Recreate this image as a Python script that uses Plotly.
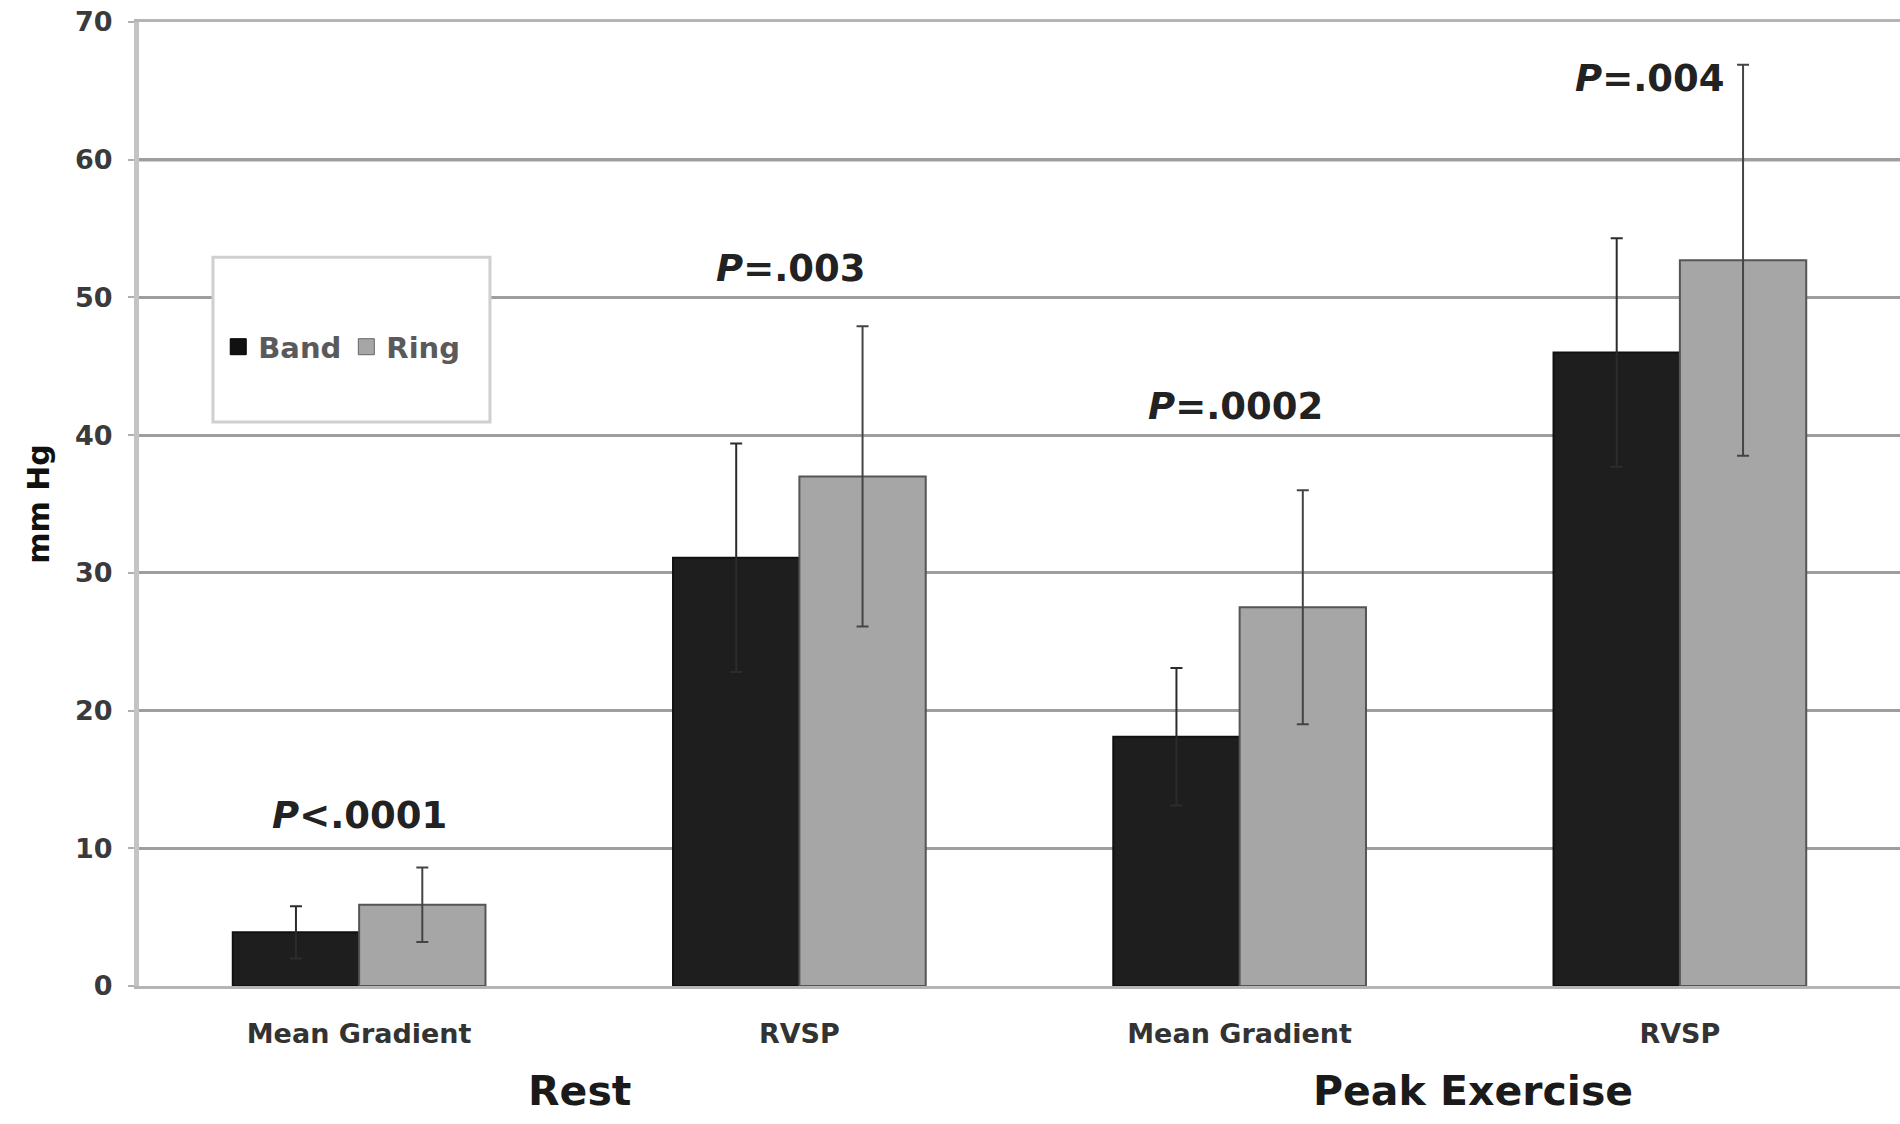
import plotly.graph_objects as go

# Pressure measurements (mm Hg), mean with SD, by ring type
measures = ["Mean Gradient", "RVSP", "Mean Gradient", "RVSP"]
conditions = ["Rest", "Peak Exercise"]
band_mean = [3.9, 31.1, 18.1, 46.0]
band_sd = [1.9, 8.3, 5.0, 8.3]
ring_mean = [5.9, 37.0, 27.5, 52.7]
ring_sd = [2.7, 10.9, 8.5, 14.2]
p_labels = ["<i>P</i><.0001", "<i>P</i>=.003", "<i>P</i>=.0002", "<i>P</i>=.004"]
p_x = [0.0, 0.98, 1.99, 2.93]
p_y = [12.4, 52.1, 42.1, 65.9]
y_ticks = [0, 10, 20, 30, 40, 50, 60, 70]

pos = list(range(len(measures)))
FONT = "DejaVu Sans"

fig = go.Figure()

fig.add_trace(go.Bar(
    x=pos, y=band_mean, name="Band", showlegend=False,
    marker=dict(color="#1e1e1e", line=dict(color="#111111", width=2)),
    error_y=dict(type="data", array=band_sd, color="#2c2c2c", thickness=2, width=6),
))
fig.add_trace(go.Bar(
    x=pos, y=ring_mean, name="Ring", showlegend=False,
    marker=dict(color="#a6a6a6", line=dict(color="#555555", width=2)),
    error_y=dict(type="data", array=ring_sd, color="#444444", thickness=2, width=6),
))

# legend entries with larger square swatches
fig.add_trace(go.Scatter(
    x=[None], y=[None], mode="markers", name="Band",
    marker=dict(symbol="square", size=16, color="#111111", line=dict(color="#000", width=1)),
))
fig.add_trace(go.Scatter(
    x=[None], y=[None], mode="markers", name="Ring",
    marker=dict(symbol="square", size=16, color="#a6a6a6", line=dict(color="#666", width=1)),
))

# significance labels
for txt, xv, yv in zip(p_labels, p_x, p_y):
    fig.add_annotation(x=xv, y=yv, text=f"<b>{txt}</b>", showarrow=False,
                       xanchor="center", yanchor="middle",
                       font=dict(family=FONT, size=37, color="#222"))

# condition group labels
for name, xv in zip(conditions, [0.5, 2.53]):
    fig.add_annotation(x=xv, y=-0.109, xref="x", yref="paper", text=f"<b>{name}</b>",
                       showarrow=False, xanchor="center", yanchor="middle",
                       font=dict(family=FONT, size=41, color="#1a1a1a"))

# emphasized reference line
fig.add_shape(type="line", xref="paper", x0=0, x1=1, yref="y", y0=60, y1=60,
              line=dict(color="#454545", width=3), layer="below")

# legend frame
fig.add_shape(type="rect", xref="paper", yref="paper",
              x0=0.042, x1=0.1993, y0=0.585, y1=0.756,
              line=dict(color="#cfcfcf", width=3), fillcolor="white", layer="above")

fig.update_layout(
    width=1900, height=1124,
    margin=dict(l=139, r=0, t=22, b=138),
    paper_bgcolor="white", plot_bgcolor="white",
    barmode="group", bargap=0.426, bargroupgap=0,
    font=dict(family=FONT, color="#333"),
    showlegend=True,
    legend=dict(orientation="h", x=0.045, xanchor="left", y=0.663, yanchor="middle",
                bgcolor="rgba(0,0,0,0)", borderwidth=0,
                font=dict(family=FONT, size=29, color="#5a5a5a", weight="bold"),
                itemsizing="trace"),
    xaxis=dict(
        range=[-0.5, 3.5], tickvals=pos, ticktext=measures,
        tickfont=dict(family=FONT, size=27, color="#333", weight="bold"),
        showgrid=False, zeroline=False, showline=True, mirror=True,
        linecolor="#b5b5b5", linewidth=3,
        ticks="", ticklabelstandoff=22,
    ),
    yaxis=dict(
        range=[0, 70], tickvals=y_ticks,
        tickfont=dict(family=FONT, size=27, color="#3a3a3a", weight="bold"),
        showgrid=True, gridcolor="#9e9e9e", gridwidth=3,
        zeroline=False, showline=True, linecolor="#c4c4c4", linewidth=5,
        ticks="outside", ticklen=6, tickcolor="#b0b0b0", tickwidth=2, ticklabelstandoff=10,
        title=dict(text="<b>mm Hg</b>", font=dict(family=FONT, size=30, color="#111"), standoff=18),
    ),
)

fig.write_html("out.html")
